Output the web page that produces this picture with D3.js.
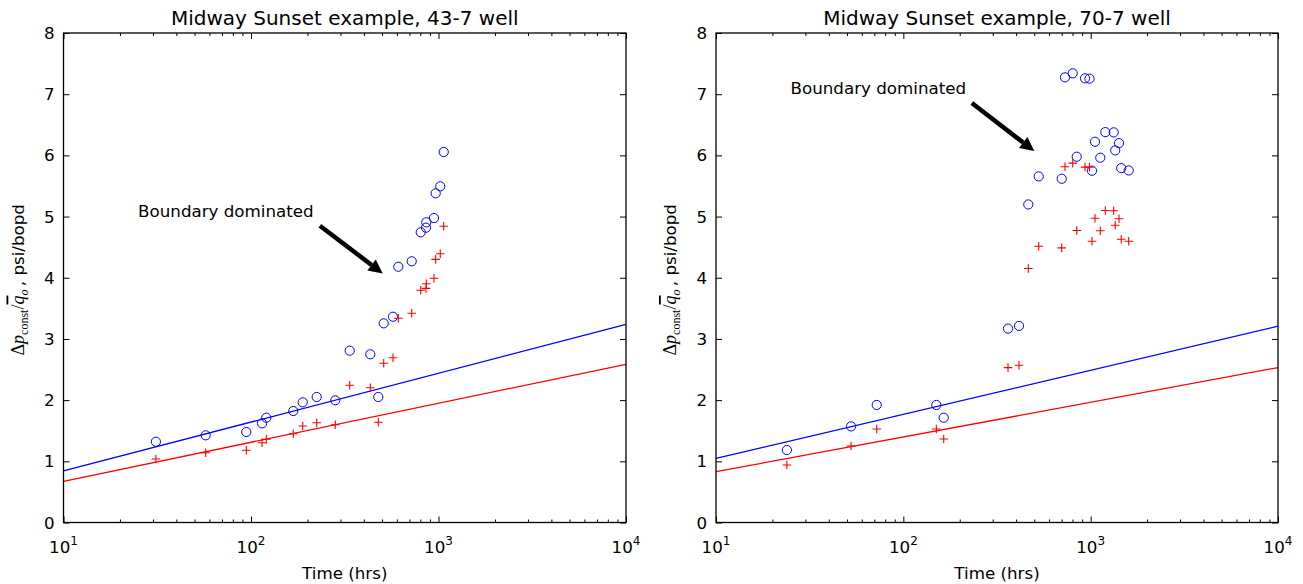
<!DOCTYPE html>
<html>
<head>
<meta charset="utf-8">
<script src="https://cdn.jsdelivr.net/npm/d3@7"></script>
<style>
  html, body { margin: 0; padding: 0; background: #fff; }
  svg { display: block; }
  text { font-family: "DejaVu Sans", sans-serif; fill: #000; }
</style>
</head>
<body>
<svg id="chart" width="1303" height="584"></svg>
<script>
// ---- Well 43-7 ----
const well43Times = [31.1, 57.3, 94.4, 114.5, 120.7, 168.1, 188.7, 224.1, 281.6, 336.1, 432.8, 477.5,
  510.3, 571.9, 610.4, 719.6, 803.9, 857.8, 861, 946, 966, 1022, 1066];
const well43Circles = [1.32, 1.425, 1.479, 1.621, 1.713, 1.822, 1.964, 2.051, 1.997, 2.808, 2.749, 2.051,
  3.255, 3.363, 4.18, 4.269, 4.743, 4.818, 4.906, 4.976, 5.38, 5.494, 6.055];
const well43Plus = [1.038, 1.141, 1.18, 1.304, 1.36, 1.451, 1.577, 1.631, 1.598, 2.242, 2.203, 1.638,
  2.602, 2.693, 3.337, 3.419, 3.795, 3.827, 3.903, 3.991, 4.301, 4.393, 4.841];
// straight-line fits: values at t = 10 and t = 10^4 hrs
const well43BlueFit = [0.842, 3.239];
const well43RedFit = [0.673, 2.585];

// ---- Well 70-7 ----
const well70Times = [23.9, 52.6, 72.1, 150.0, 164.3, 362.1, 414.4, 464.6, 528.0, 700.4, 729.4, 802.1,
  842.5, 933.0, 985.8, 1016.5, 1054.6, 1125.5, 1197.1, 1327.4, 1352.1, 1416.8, 1455.4, 1595.9];
const well70Circles = [1.184, 1.571, 1.921, 1.921, 1.713, 3.169, 3.213, 5.198, 5.656, 5.618, 7.275, 7.341,
  5.978, 7.259, 7.254, 5.749, 6.223, 5.962, 6.38, 6.376, 6.081, 6.2, 5.791, 5.754];
const well70Plus = [0.939, 1.25, 1.528, 1.528, 1.364, 2.531, 2.569, 4.151, 4.515, 4.489, 5.814, 5.873,
  4.772, 5.808, 5.808, 4.597, 4.973, 4.767, 5.099, 5.095, 4.859, 4.964, 4.63, 4.597];
const well70BlueFit = [1.047, 3.208];
const well70RedFit = [0.83, 2.532];

const fitTimes = [10, 10000];
const xTickValues = [10, 100, 1000, 10000];
const xTickExponents = ["1", "2", "3", "4"];
const yTickValues = [0, 1, 2, 3, 4, 5, 6, 7, 8];
const annotationText = "Boundary dominated";
// annotation: text anchor [t, value], arrow tail and head [t, value]
const well43Note = { text: [25, 5.0], tail: [233, 4.85], head: [504, 4.07] };
const well70Note = { text: [25, 7.0], tail: [232, 6.855], head: [500, 6.07] };

const panels = [
  { title: "Midway Sunset example, 43-7 well", left: 63.5, right: 626,
    times: well43Times, circles: well43Circles, plus: well43Plus,
    blueFit: well43BlueFit, redFit: well43RedFit, note: well43Note },
  { title: "Midway Sunset example, 70-7 well", left: 716, right: 1278,
    times: well70Times, circles: well70Circles, plus: well70Plus,
    blueFit: well70BlueFit, redFit: well70RedFit, note: well70Note }
];

const plotTop = 33, plotBottom = 522.5;
const svg = d3.select("#chart");

panels.forEach(p => {
  const x = d3.scaleLog().domain([10, 10000]).range([p.left, p.right]);
  const y = d3.scaleLinear().domain([0, 8]).range([plotBottom, plotTop]);
  const g = svg.append("g");

  // fitted lines
  const line = d3.line().x(d => x(d[0])).y(d => y(d[1]));
  g.append("path").datum(fitTimes.map((t, i) => [t, p.blueFit[i]]))
    .attr("d", line).attr("fill", "none").attr("stroke", "#0000ff").attr("stroke-width", 1.3);
  g.append("path").datum(fitTimes.map((t, i) => [t, p.redFit[i]]))
    .attr("d", line).attr("fill", "none").attr("stroke", "#ff0000").attr("stroke-width", 1.3);

  // circle markers
  g.append("g").selectAll("circle").data(p.times.map((t, i) => [t, p.circles[i]]))
    .join("circle")
    .attr("cx", d => x(d[0])).attr("cy", d => y(d[1])).attr("r", 4.6)
    .attr("fill", "none").attr("stroke", "#0000ff").attr("stroke-width", 1);

  // plus markers
  g.append("g").selectAll("path").data(p.times.map((t, i) => [t, p.plus[i]]))
    .join("path")
    .attr("transform", d => `translate(${x(d[0])},${y(d[1])})`)
    .attr("d", "M-4.3,0H4.3M0,-4.3V4.3")
    .attr("fill", "none").attr("stroke", "#ff0000").attr("stroke-width", 1.1);

  // axes: ticks point inward on all four sides
  const xMajor = d3.axisBottom(x).tickValues(xTickValues).tickFormat("").tickSizeInner(-6).tickSizeOuter(0);
  const minorTicks = [];
  for (let dec = 10; dec < 10000; dec *= 10) for (let k = 2; k <= 9; k++) minorTicks.push(dec * k);
  const xMinor = d3.axisBottom(x).tickValues(minorTicks).tickFormat("").tickSizeInner(-3).tickSizeOuter(0);
  const xMajorTop = d3.axisTop(x).tickValues(xTickValues).tickFormat("").tickSizeInner(-6).tickSizeOuter(0);
  const xMinorTop = d3.axisTop(x).tickValues(minorTicks).tickFormat("").tickSizeInner(-3).tickSizeOuter(0);
  const yLeft = d3.axisLeft(y).tickValues(yTickValues).tickFormat("").tickSizeInner(-6).tickSizeOuter(0);
  const yRight = d3.axisRight(y).tickValues(yTickValues).tickFormat("").tickSizeInner(-6).tickSizeOuter(0);

  const axes = [
    [xMajor, `translate(0,${plotBottom})`], [xMinor, `translate(0,${plotBottom})`],
    [xMajorTop, `translate(0,${plotTop})`], [xMinorTop, `translate(0,${plotTop})`],
    [yLeft, `translate(${p.left},0)`], [yRight, `translate(${p.right},0)`]
  ];
  axes.forEach(([ax, tr]) => {
    const a = g.append("g").attr("transform", tr).call(ax);
    a.selectAll("path.domain").remove();
    a.selectAll("line").attr("stroke", "#000").attr("stroke-width", 1);
  });

  // frame
  g.append("rect").attr("x", p.left).attr("y", plotTop)
    .attr("width", p.right - p.left).attr("height", plotBottom - plotTop)
    .attr("fill", "none").attr("stroke", "#000").attr("stroke-width", 1.3);

  // y tick labels
  g.append("g").selectAll("text").data(yTickValues).join("text")
    .attr("x", p.left - 9).attr("y", d => y(d)).attr("dy", "0.36em")
    .attr("text-anchor", "end").attr("font-size", 16.7)
    .text(d => d);

  // x tick labels: 10^n
  const xl = g.append("g").selectAll("text").data(xTickValues).join("text")
    .attr("x", x).attr("y", plotBottom + 30)
    .attr("text-anchor", "middle").attr("font-size", 16.7);
  xl.append("tspan").text("10");
  xl.append("tspan").attr("dy", -8).attr("font-size", 12).text((d, i) => xTickExponents[i]);

  // title
  g.append("text").attr("x", (p.left + p.right) / 2).attr("y", plotTop - 8)
    .attr("text-anchor", "middle").attr("font-size", 20).text(p.title);

  // x label
  g.append("text").attr("x", (p.left + p.right) / 2).attr("y", 579)
    .attr("text-anchor", "middle").attr("font-size", 16.7).text("Time (hrs)");

  // y label: Δp_const / q̄_o , psi/bopd
  const yl = g.append("text")
    .attr("transform", `translate(${p.left - 40},${(plotTop + plotBottom) / 2 + 2}) rotate(-90)`)
    .attr("text-anchor", "middle").attr("font-size", 16.7);
  const serif = "'Liberation Serif', 'DejaVu Serif', serif";
  yl.append("tspan").attr("font-family", serif).attr("font-size", 18).text("Δ");
  yl.append("tspan").attr("font-family", serif).attr("font-style", "italic").attr("font-size", 18).text("p");
  yl.append("tspan").attr("font-family", serif).attr("font-size", 12).attr("dy", 4).text("const");
  yl.append("tspan").attr("font-family", serif).attr("font-size", 18).attr("dy", -4).text("/");
  yl.append("tspan").attr("font-family", serif).attr("font-style", "italic").attr("font-size", 18)
    .style("text-decoration", "overline").text("q");
  yl.append("tspan").attr("font-family", serif).attr("font-style", "italic").attr("font-size", 12).attr("dy", 4).text("o");
  yl.append("tspan").attr("dy", -4).text("\u2009, psi/bopd");

  // annotation
  const n = p.note;
  g.append("text").attr("x", x(n.text[0])).attr("y", y(n.text[1]))
    .attr("font-size", 16.7).text(annotationText);
  const x0 = x(n.tail[0]), y0 = y(n.tail[1]), x1 = x(n.head[0]), y1 = y(n.head[1]);
  const ang = Math.atan2(y1 - y0, x1 - x0);
  const headLen = 14, headHalf = 7;
  const bx = x1 - headLen * Math.cos(ang), by = y1 - headLen * Math.sin(ang);
  g.append("line").attr("x1", x0).attr("y1", y0).attr("x2", bx).attr("y2", by)
    .attr("stroke", "#000").attr("stroke-width", 4.5);
  const nx = -Math.sin(ang), ny = Math.cos(ang);
  g.append("path")
    .attr("d", `M${x1},${y1}L${bx + nx * headHalf},${by + ny * headHalf}L${bx - nx * headHalf},${by - ny * headHalf}Z`)
    .attr("fill", "#000");
});
</script>
</body>
</html>
